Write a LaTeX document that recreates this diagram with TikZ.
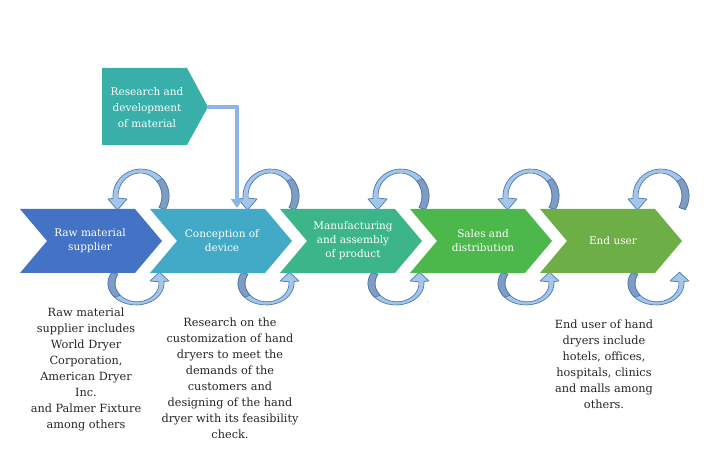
\documentclass[tikz,border=0pt]{standalone}
\usepackage{fontspec}
\setmainfont{DejaVu Serif}
\usetikzlibrary{arrows.meta}
\definecolor{raw}{HTML}{4472C4}
\definecolor{concept}{HTML}{42A9C6}
\definecolor{manuf}{HTML}{3DB58B}
\definecolor{sales}{HTML}{4CB84C}
\definecolor{enduser}{HTML}{6DAE46}
\definecolor{rnd}{HTML}{38AFA9}
\definecolor{loopfill}{HTML}{A3C6EA}
\definecolor{loopback}{HTML}{7E9CC4}
\definecolor{loopline}{HTML}{4F7AAE}
\definecolor{feed}{HTML}{8DB4E2}
\definecolor{body}{HTML}{262626}
\tikzset{
  lab/.style={text=white, align=center, font=\fontsize{10.5}{14}\selectfont},
  note/.style={text=body, align=center, font=\fontsize{11.3}{16}\selectfont},
  loopy/.style={fill=loopfill, draw=loopline, line width=0.7pt, line join=round},
  feedline/.style={draw=feed, line width=4.5pt, -{Triangle[width=12pt,length=9pt]}},
  cyc/.pic={
    \filldraw[loopy] (-30:28 and 27)
      arc[start angle=-30, end angle=185, x radius=28, y radius=27]
      -- (-33,-3) -- (-23.5,-14) -- (-14,-3) -- (-22.9,-2.0)
      arc[start angle=185, end angle=-30, x radius=22, y radius=23] -- cycle;
    % darker inner face on the tail side
    \filldraw[loopy, fill=loopback] (-30:28 and 27)
      arc[start angle=-30, end angle=40, x radius=28, y radius=27]
      -- (15.85,14.8)
      arc[start angle=40, end angle=-30, x radius=22, y radius=23] -- cycle;
  },
}
\begin{document}
\begin{tikzpicture}[x=1pt, y=1pt]
  \fill[white] (0,0) rectangle (713,476);
  \useasboundingbox (0,0) rectangle (713,476);

  % loops above and below each step
  \foreach \i in {0,...,4} {
    \pic at ({141+130*\i},280) {cyc};
    \pic[rotate=180, yscale=0.8] at ({136+130*\i},192.6) {cyc};
  }

  % the chain of steps
  \foreach \c [count=\i from 0] in {raw,concept,manuf,sales,enduser} {
    \fill[\c] ({20+130*\i},267) -- ++(115,0) -- ++(27,-32) -- ++(-27,-32)
      -- ++(-115,0) -- ++(27,32) -- cycle;
  }
  \node[lab] (c1) at (90,235) {Raw material\\supplier};
  \node[lab] (c2) at (222,235) {Conception of\\device};
  \node[lab] (c3) at (353,235) {Manufacturing\\and assembly\\of product};
  \node[lab] (c4) at (483,235) {Sales and\\distribution};
  \node[lab] (c5) at (613,235) {End user};

  % research box feeding the second step
  \fill[rnd] (102,408) -- (187,408) -- (208,369) coordinate (rdtip)
    -- (187,331) -- (102,331) -- cycle;
  \node[lab, font=\fontsize{10.5}{16}\selectfont] (rd) at (147,368)
    {Research and\\development\\of material};
  \coordinate (c2top) at (237,268);
  \draw[feedline] (rdtip) -| (c2top);

  \node[note] (n1) at (86,107) {Raw material\\supplier includes\\World Dryer\\Corporation,\\American Dryer\\Inc.\\and Palmer Fixture\\among others};
  \node[note] (n2) at (230,98) {Research on the\\customization of hand\\dryers to meet the\\demands of the\\customers and\\designing of the hand\\dryer with its feasibility\\check.};
  \node[note] (n3) at (604,112) {End user of hand\\dryers include\\hotels, offices,\\hospitals, clinics\\and malls among\\others.};
  \node[text=body, font=\tiny] (dot) at (428,174) {.};
\end{tikzpicture}
\end{document}
